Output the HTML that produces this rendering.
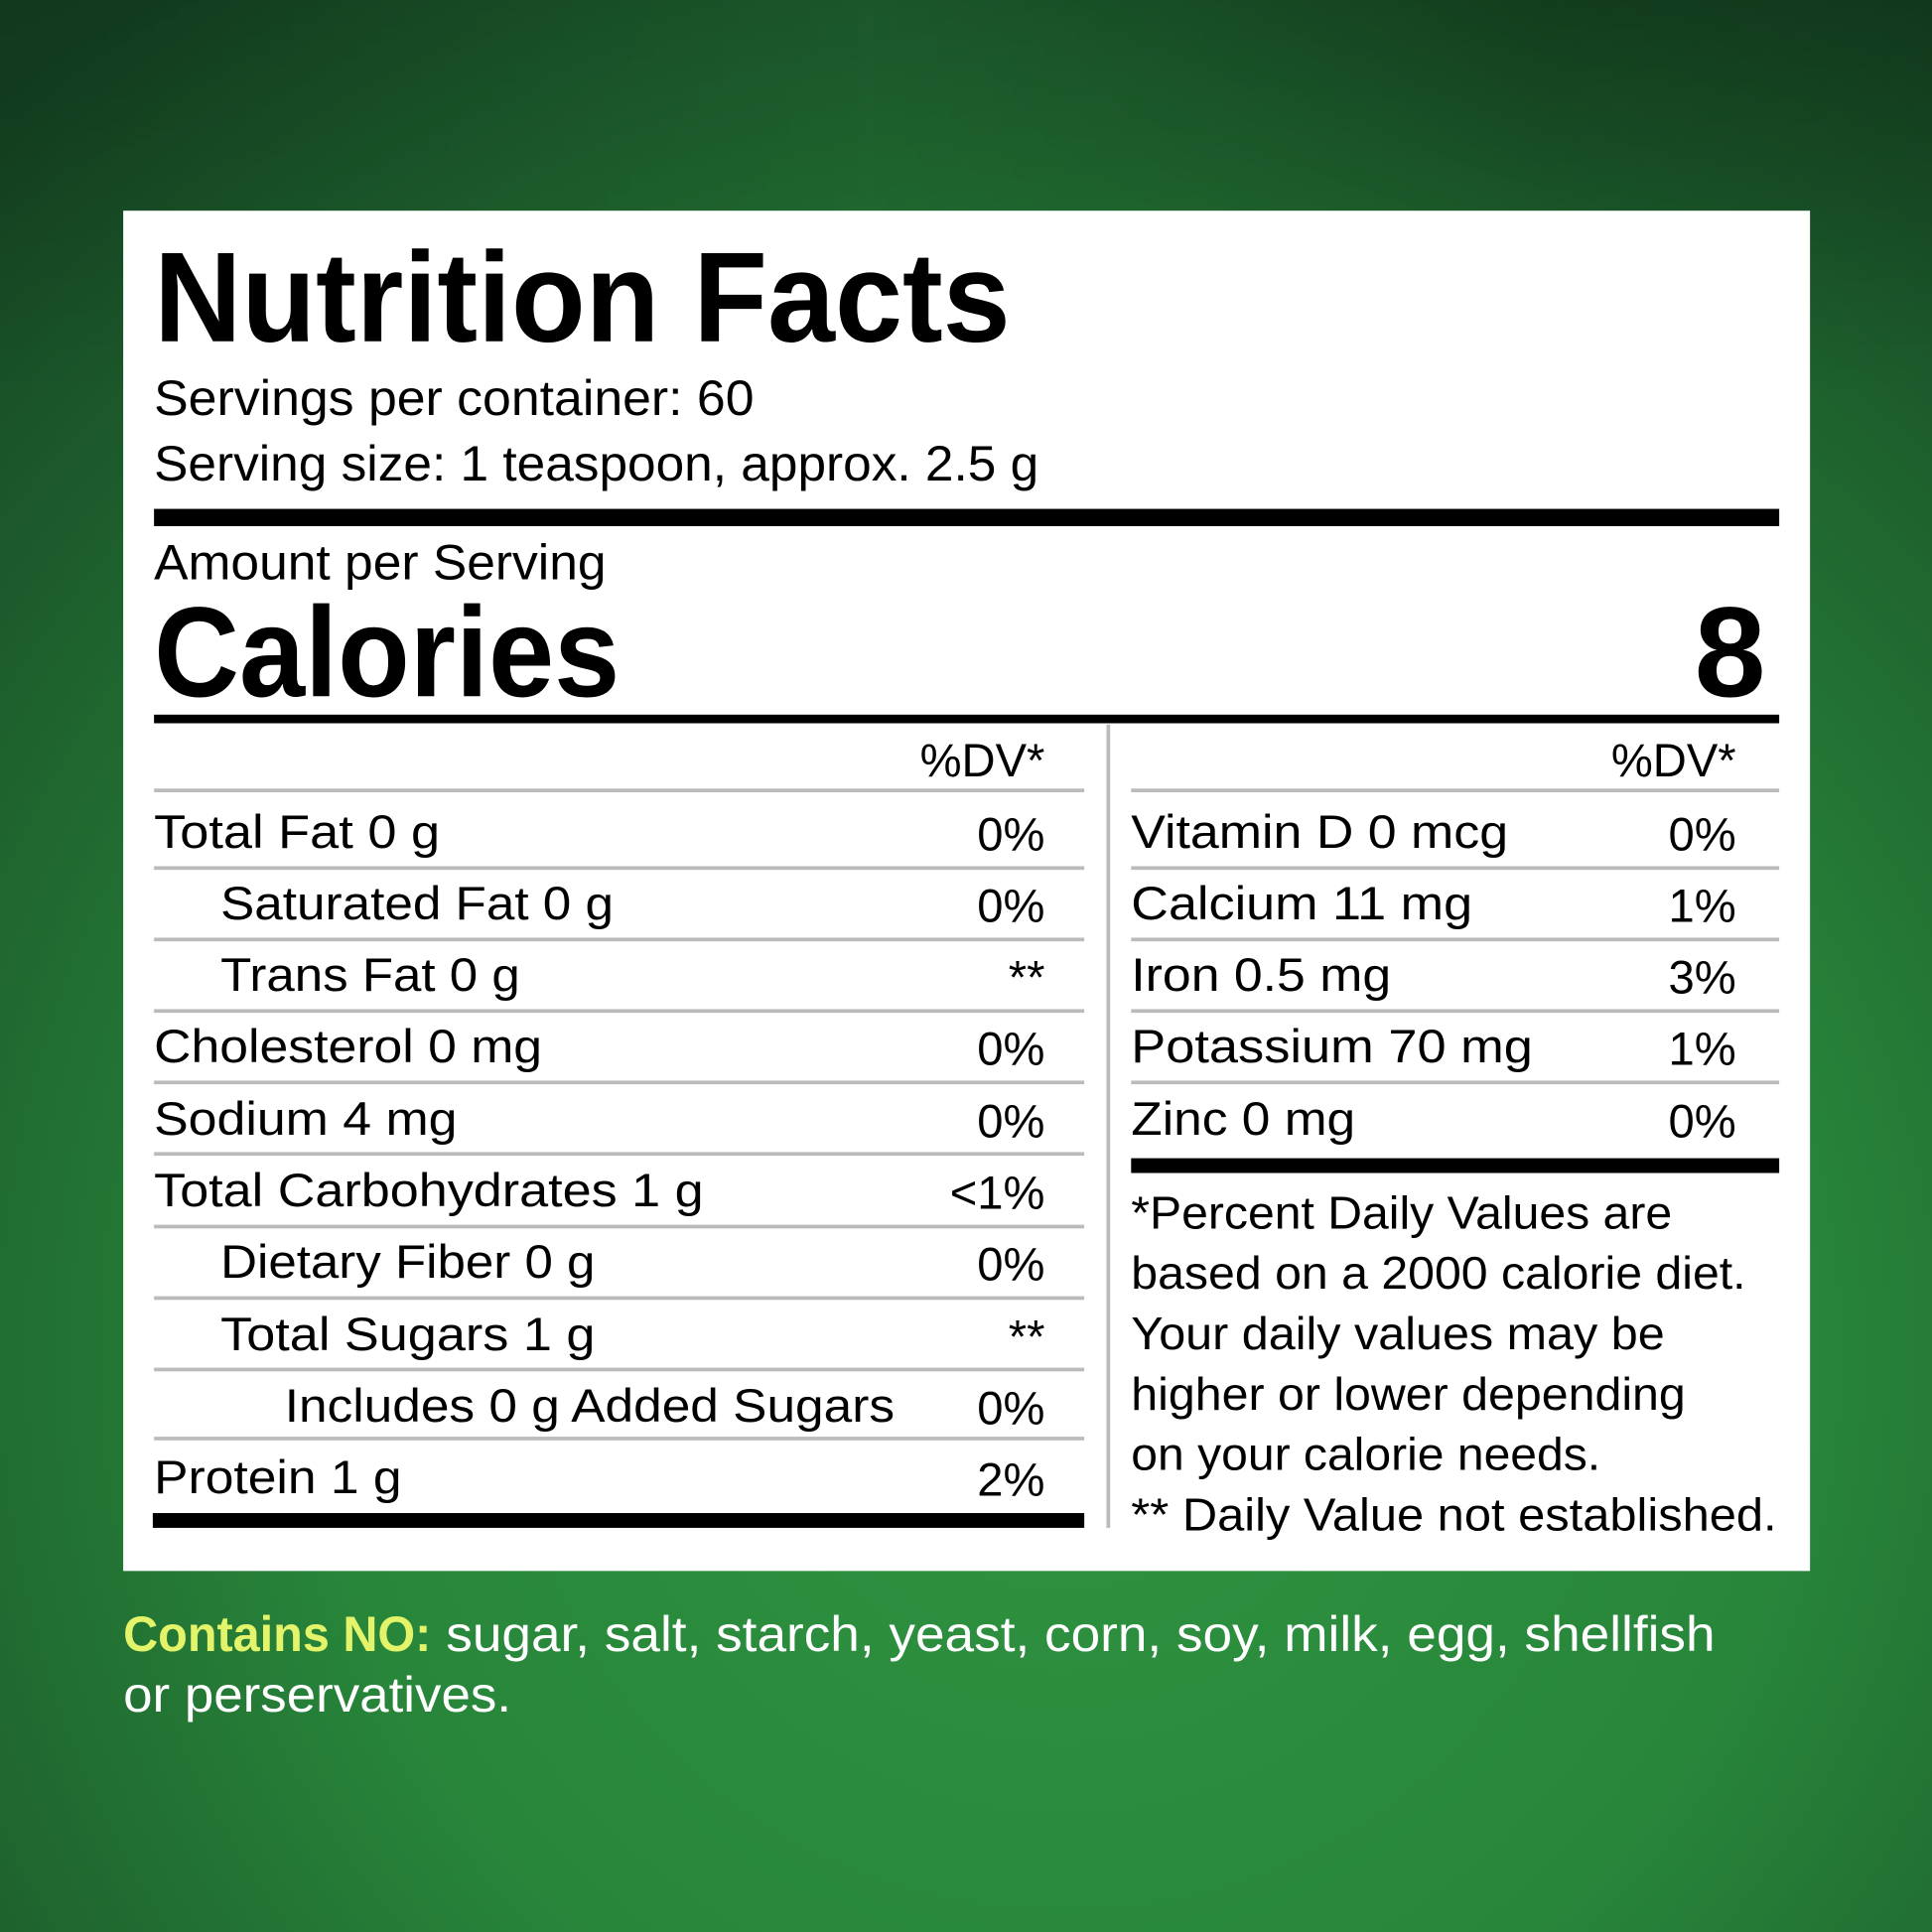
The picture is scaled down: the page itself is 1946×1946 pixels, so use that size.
<!DOCTYPE html>
<html><head><meta charset="utf-8"><style>
html,body{margin:0;padding:0;width:1946px;height:1946px;overflow:hidden;}
svg{display:block}
text{font-family:"Liberation Sans",sans-serif;fill:#000;}
</style></head><body>
<svg width="1946" height="1946" viewBox="0 0 1568 1568" xmlns="http://www.w3.org/2000/svg">
<defs>
<radialGradient id="bg" cx="0.55" cy="0.7" r="0.85">
<stop offset="0" stop-color="#2e9440"/>
<stop offset="0.45" stop-color="#28863a"/>
<stop offset="0.8" stop-color="#1c5a2b"/>
<stop offset="1" stop-color="#154322"/>
</radialGradient>
<linearGradient id="tp" x1="0" y1="0" x2="1" y2="0">
<stop offset="0" stop-color="#000" stop-opacity="0.15"/>
<stop offset="0.45" stop-color="#000" stop-opacity="0"/>
<stop offset="0.8" stop-color="#000" stop-opacity="0.25"/>
<stop offset="1" stop-color="#000" stop-opacity="0.2"/>
</linearGradient>
<linearGradient id="tpv" x1="0" y1="0" x2="0" y2="1">
<stop offset="0" stop-color="#fff" stop-opacity="1"/>
<stop offset="0.2" stop-color="#fff" stop-opacity="0"/>
</linearGradient>
<mask id="m"><rect width="1568" height="1568" fill="url(#tpv)"/></mask>
</defs>
<rect width="1568" height="1568" fill="url(#bg)"/>
<rect width="1568" height="1568" fill="url(#tp)" mask="url(#m)"/>
<rect x="100" y="171" width="1369" height="1104" fill="#fff"/>

<text x="125" y="277" font-size="104" font-weight="bold" textLength="695" lengthAdjust="spacingAndGlyphs">Nutrition Facts</text>
<text x="125" y="337" font-size="40" textLength="487" lengthAdjust="spacingAndGlyphs">Servings per container: 60</text>
<text x="125" y="390" font-size="40" textLength="718" lengthAdjust="spacingAndGlyphs">Serving size: 1 teaspoon, approx. 2.5 g</text>
<rect x="125" y="413" width="1319" height="14" fill="#000"/>
<text x="125" y="470" font-size="40" textLength="367" lengthAdjust="spacingAndGlyphs">Amount per Serving</text>
<text x="125" y="565" font-size="104" font-weight="bold" textLength="378" lengthAdjust="spacingAndGlyphs">Calories</text>
<text x="1433" y="565" font-size="104" font-weight="bold" text-anchor="end">8</text>
<rect x="125" y="580" width="1319" height="7" fill="#000"/>
<rect x="898" y="588" width="3" height="652" fill="#bbb"/>

<g fill="#bbb">
<rect x="125" y="640" width="755" height="3"/>
<rect x="125" y="703" width="755" height="3"/>
<rect x="125" y="761" width="755" height="3"/>
<rect x="125" y="819" width="755" height="3"/>
<rect x="125" y="877" width="755" height="3"/>
<rect x="125" y="935" width="755" height="3"/>
<rect x="125" y="994" width="755" height="3"/>
<rect x="125" y="1052" width="755" height="3"/>
<rect x="125" y="1110" width="755" height="3"/>
<rect x="125" y="1166" width="755" height="3"/>
<rect x="918" y="640" width="526" height="3"/>
<rect x="918" y="703" width="526" height="3"/>
<rect x="918" y="761" width="526" height="3"/>
<rect x="918" y="819" width="526" height="3"/>
<rect x="918" y="877" width="526" height="3"/>
</g>
<rect x="124" y="1228" width="756" height="12" fill="#000"/>
<rect x="918" y="940" width="526" height="12" fill="#000"/>

<g font-size="38">
<text x="848" y="630" text-anchor="end">%DV*</text>
<text x="1409" y="630" text-anchor="end">%DV*</text>
<text x="125" y="688" textLength="232" lengthAdjust="spacingAndGlyphs">Total Fat 0 g</text>
<text x="179" y="746" textLength="319" lengthAdjust="spacingAndGlyphs">Saturated Fat 0 g</text>
<text x="179" y="804" textLength="243" lengthAdjust="spacingAndGlyphs">Trans Fat 0 g</text>
<text x="125" y="862" textLength="315" lengthAdjust="spacingAndGlyphs">Cholesterol 0 mg</text>
<text x="125" y="921" textLength="246" lengthAdjust="spacingAndGlyphs">Sodium 4 mg</text>
<text x="125" y="979" textLength="446" lengthAdjust="spacingAndGlyphs">Total Carbohydrates 1 g</text>
<text x="179" y="1037" textLength="304" lengthAdjust="spacingAndGlyphs">Dietary Fiber 0 g</text>
<text x="179" y="1096" textLength="304" lengthAdjust="spacingAndGlyphs">Total Sugars 1 g</text>
<text x="231" y="1154" textLength="495" lengthAdjust="spacingAndGlyphs">Includes 0 g Added Sugars</text>
<text x="125" y="1212" textLength="201" lengthAdjust="spacingAndGlyphs">Protein 1 g</text>
<g text-anchor="end">
<text x="848" y="690">0%</text>
<text x="848" y="748">0%</text>
<text x="848" y="806">**</text>
<text x="848" y="864">0%</text>
<text x="848" y="923">0%</text>
<text x="848" y="981">&lt;1%</text>
<text x="848" y="1039">0%</text>
<text x="848" y="1098">**</text>
<text x="848" y="1156">0%</text>
<text x="848" y="1214">2%</text>
<text x="1409" y="690">0%</text>
<text x="1409" y="748">1%</text>
<text x="1409" y="806">3%</text>
<text x="1409" y="864">1%</text>
<text x="1409" y="923">0%</text>
</g>
<text x="918" y="688" textLength="306" lengthAdjust="spacingAndGlyphs">Vitamin D 0 mcg</text>
<text x="918" y="746" textLength="277" lengthAdjust="spacingAndGlyphs">Calcium 11 mg</text>
<text x="918" y="804" textLength="211" lengthAdjust="spacingAndGlyphs">Iron 0.5 mg</text>
<text x="918" y="862" textLength="326" lengthAdjust="spacingAndGlyphs">Potassium 70 mg</text>
<text x="918" y="921" textLength="182" lengthAdjust="spacingAndGlyphs">Zinc 0 mg</text>
</g>
<g font-size="37">
<text x="918" y="997" textLength="439" lengthAdjust="spacingAndGlyphs">*Percent Daily Values are</text>
<text x="918" y="1046" textLength="499" lengthAdjust="spacingAndGlyphs">based on a 2000 calorie diet.</text>
<text x="918" y="1095" textLength="433" lengthAdjust="spacingAndGlyphs">Your daily values may be</text>
<text x="918" y="1144" textLength="450" lengthAdjust="spacingAndGlyphs">higher or lower depending</text>
<text x="918" y="1193" textLength="381" lengthAdjust="spacingAndGlyphs">on your calorie needs.</text>
<text x="918" y="1242" textLength="524" lengthAdjust="spacingAndGlyphs">** Daily Value not established.</text>
</g>
<g font-size="40">
<text x="100" y="1340" font-weight="bold" style="fill:#e4f46a" textLength="250" lengthAdjust="spacingAndGlyphs">Contains NO:</text>
<text x="362" y="1340" style="fill:#fff" textLength="1030" lengthAdjust="spacingAndGlyphs">sugar, salt, starch, yeast, corn, soy, milk, egg, shellfish</text>
<text x="100" y="1389" style="fill:#fff" textLength="315" lengthAdjust="spacingAndGlyphs">or perservatives.</text>
</g>
</svg>
</body></html>
